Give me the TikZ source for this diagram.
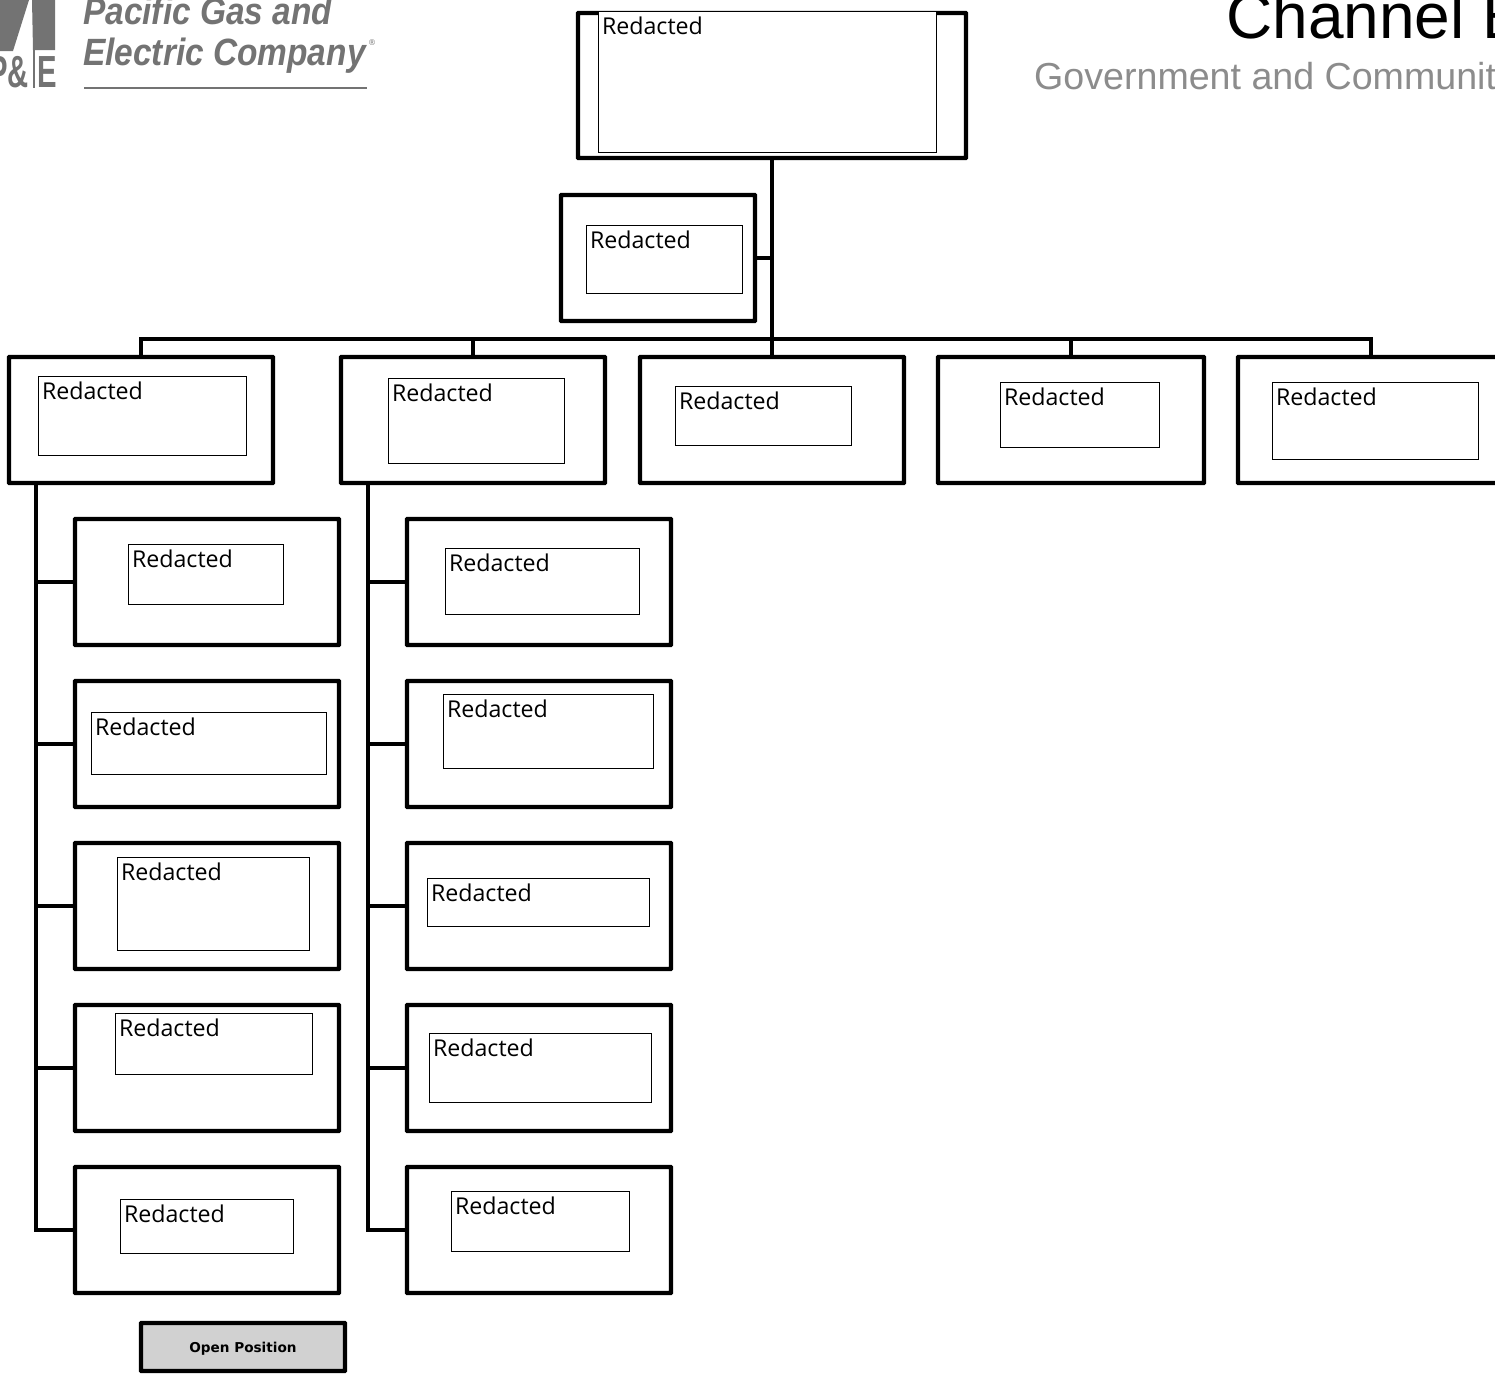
\documentclass[tikz,border=0pt]{standalone}
\usepackage{fontspec}
\setmainfont{Open Sans}
\newfontfamily\arialfont{Liberation Sans}
\newfontfamily\openfont{DejaVu Sans}
\usetikzlibrary{calc}
\definecolor{logogray}{gray}{0.45}
\definecolor{subgray}{gray}{0.55}
\definecolor{opengray}{gray}{0.82}
\tikzset{
  posbox/.style = {draw, line width=4.4pt, outer sep=0pt, inner sep=0pt, rounded corners=0.5pt},
  namebox/.style = {draw, fill=white, line width=1pt, outer sep=0pt, inner sep=0pt, xshift=0.3pt, yshift=-0.3pt,
    label={[anchor=north west, inner sep=0pt, xshift=3.5pt, yshift=-5.5pt, font=\fontsize{23.2}{26}\selectfont]north west:Redacted}},
  tie/.style = {line width=4pt},
  logotext/.style = {anchor=base west, inner sep=0pt, logogray, font=\arialfont\bfseries\itshape\fontsize{38}{38}\selectfont, xscale=0.88},
}
% position box given by its corners (x1,y1) (x2,y2)
\newcommand{\posnode}[5]{
  \node [posbox, minimum width=#4pt-#2pt, minimum height=#5pt-#3pt] (#1) at ({(#2+#4)/2},{(#3+#5)/2}) {};
}
% white box with the name, placed on the position box
\newcommand{\namenode}[5]{
  \node [namebox, minimum width=#4pt-#2pt, minimum height=#5pt-#3pt] (#1) at ({(#2+#4)/2},{(#3+#5)/2}) {};
}
\begin{document}
\begin{tikzpicture}[x=1pt,y=-1pt]
\useasboundingbox (0,0) rectangle (1495,1373);
\clip (0,0) rectangle (1495,1373);

% logo
\fill [logogray] (0,0) -- (29,0) -- (13,51) -- (0,51) -- cycle;
\fill [logogray] (32,0) -- (55,0) -- (55,50) -- (33,50) -- cycle;
\draw [logogray, line width=1.4pt] (34,50) -- (34,88);
\node [anchor=base west, inner sep=0pt, logogray, font=\arialfont\bfseries\fontsize{45}{45}\selectfont, xscale=0.65] (pge) at (-12,87) {P\&\hspace{13pt}E};
\node [logotext] (gas) at (83,24) {Pacific Gas and};
\node [logotext] (electric) at (83,65) {Electric Company};
\node [anchor=center, inner sep=0pt, logogray, font=\openfont\fontsize{8}{8}\selectfont] (reg) at (372,43) {®};
\draw [logogray, line width=1.6pt] (84,88) -- (367,88);

% title
\node [anchor=base west, inner sep=0pt, font=\arialfont\fontsize{64}{64}\selectfont] (title) at (1226,38) {Channel E};
\node [anchor=base west, inner sep=0pt, subgray, font=\arialfont\fontsize{37.6}{38}\selectfont] (subtitle) at (1034,89) {Government and Communit};

% head and assistant
\posnode{head}{578}{13}{966}{158}
\namenode{headname}{598}{11}{936}{152}
\posnode{asst}{561}{195}{755}{321}
\namenode{asstname}{586}{225}{742}{293}

% first row
\posnode{rowa}{9}{357}{273}{483}
\namenode{rowaname}{38}{376}{246}{455}
\posnode{rowb}{341}{357}{605}{483}
\namenode{rowbname}{388}{378}{564}{463}
\posnode{rowc}{640}{357}{904}{483}
\namenode{rowcname}{675}{386}{851}{445}
\posnode{rowd}{938}{357}{1204}{483}
\namenode{rowdname}{1000}{382}{1159}{447}
\posnode{rowe}{1238}{357}{1504}{483}
\namenode{rowename}{1272}{382}{1478}{459}

% left column
\posnode{lefta}{75}{519}{339}{645}
\namenode{leftaname}{128}{544}{283}{604}
\posnode{leftb}{75}{681}{339}{807}
\namenode{leftbname}{91}{712}{326}{774}
\posnode{leftc}{75}{843}{339}{969}
\namenode{leftcname}{117}{857}{309}{950}
\posnode{leftd}{75}{1005}{339}{1131}
\namenode{leftdname}{115}{1013}{312}{1074}
\posnode{lefte}{75}{1167}{339}{1293}
\namenode{leftename}{120}{1199}{293}{1253}

% right column
\posnode{righta}{407}{519}{671}{645}
\namenode{rightaname}{445}{548}{639}{614}
\posnode{rightb}{407}{681}{671}{807}
\namenode{rightbname}{443}{694}{653}{768}
\posnode{rightc}{407}{843}{671}{969}
\namenode{rightcname}{427}{878}{649}{926}
\posnode{rightd}{407}{1005}{671}{1131}
\namenode{rightdname}{429}{1033}{651}{1102}
\posnode{righte}{407}{1167}{671}{1293}
\namenode{rightename}{451}{1191}{629}{1251}

% legend
\node [posbox, fill=opengray, minimum width=204pt, minimum height=48pt, text height=13pt, font=\openfont\bfseries\fontsize{13.6}{16}\selectfont] (open) at (243,1347) {Open Position};

% ties
\coordinate (bus) at (772,339);
\coordinate (lefttop) at (36,483);
\coordinate (righttop) at (367.5,483);
\draw [tie] (head.south) -- (rowc.north);
\draw [tie] (asst.east) -- (asst.east -| head.south);
\foreach \n in {rowa,rowb,rowd,rowe}
  \draw [tie] (\n.north) |- (bus);
\foreach \n in {lefta,leftb,leftc,leftd,lefte}
  \draw [tie] (lefttop) |- (\n.west);
\foreach \n in {righta,rightb,rightc,rightd,righte}
  \draw [tie] (righttop) |- (\n.west);
\end{tikzpicture}
\end{document}
